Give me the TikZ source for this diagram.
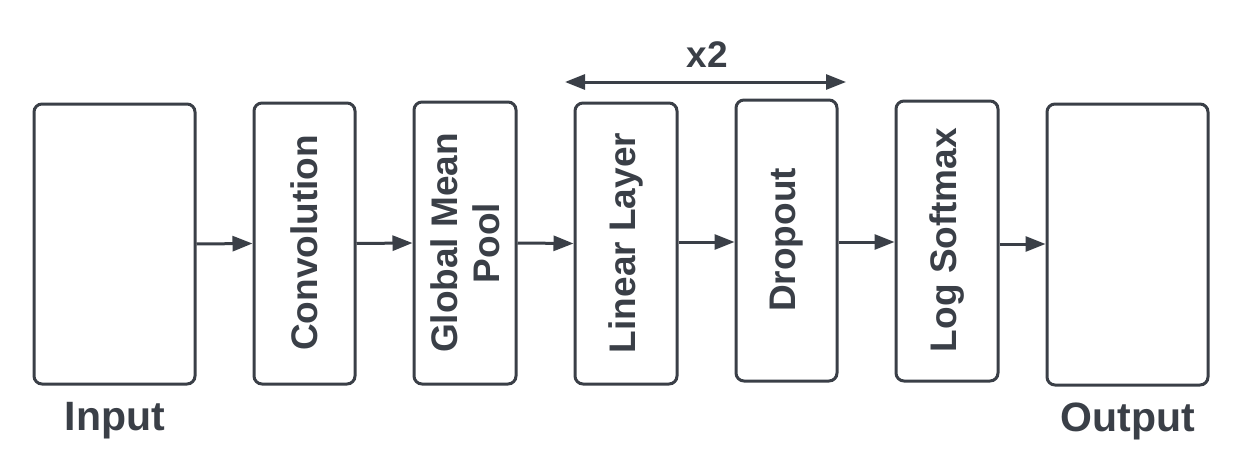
\documentclass[tikz,border=0pt]{standalone}
\usepackage{fontspec}
\setmainfont{Liberation Sans}
\usetikzlibrary{arrows.meta}
\definecolor{ink}{HTML}{3A3F47}
\begin{document}
\begin{tikzpicture}[x=1pt,y=-1pt,
  blk/.style={draw=ink,line width=3pt,rounded corners=8pt,fill=white,inner sep=0pt,rectangle},
  lbl/.style={text=ink,font=\bfseries\fontsize{37}{42}\selectfont,rotate=90,align=center},
  big/.style={text=ink,font=\bfseries\fontsize{41}{46}\selectfont},
  arr/.style={draw=ink,line width=3pt,-{Triangle[length=20pt,width=15pt]}},
  darr/.style={draw=ink,line width=3pt,{Triangle[length=20pt,width=15pt]}-{Triangle[length=20pt,width=15pt]}}]
\useasboundingbox (0,0) rectangle (1250,460);
\node[blk,minimum width=161pt,minimum height=280pt] (inB) at (114.5,244) {};
\node[blk,minimum width=101pt,minimum height=281pt] (convB) at (304.5,243.5) {};
\node[blk,minimum width=102pt,minimum height=282pt] (gmpB) at (465,243) {};
\node[blk,minimum width=102pt,minimum height=281pt] (linB) at (626,243.5) {};
\node[blk,minimum width=101pt,minimum height=281pt] (dropB) at (786.5,240.5) {};
\node[blk,minimum width=102pt,minimum height=280pt] (lsmB) at (947,241) {};
\node[blk,minimum width=161pt,minimum height=281pt] (outB) at (1127.5,244.5) {};
\node[lbl] (conv) at (304.5,243) {Convolution};
\node[lbl] (gmp) at (465,243) {Global Mean\\Pool};
\node[lbl] (lin) at (626,243) {Linear Layer};
\node[lbl] (drop) at (786.5,240) {Dropout};
\node[lbl] (lsm) at (947,240) {Log Softmax};
\node[big] (inp) at (115,421) {Input};
\node[big] (out) at (1128,421) {Output};
\node[text=ink,font=\bfseries\fontsize{37}{42}\selectfont] (x2) at (707,55) {x2};
\coordinate (rl) at (565,82);
\coordinate (rr) at (846,82);
\draw[arr] (inB.east) -- (convB.west);
\draw[arr] (convB.east) -- (gmpB.west);
\draw[arr] (gmpB.east) -- (linB.west);
\draw[arr] (linB.east |- 0,242) -- (dropB.west |- 0,242);
\draw[arr] (dropB.east |- 0,242) -- (lsmB.west |- 0,242);
\draw[arr] (lsmB.east |- 0,244) -- (outB.west |- 0,244);
\draw[darr] (rl) -- (rr);
\end{tikzpicture}
\end{document}
